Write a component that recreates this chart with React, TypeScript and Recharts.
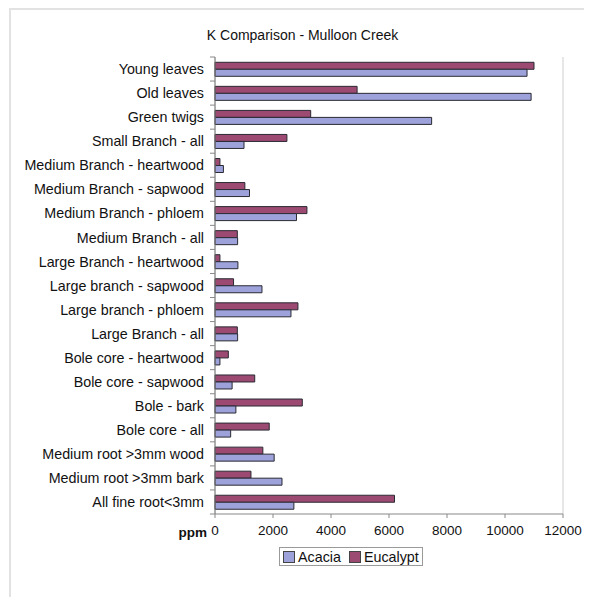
import React from 'react';
import { BarChart, Bar, XAxis, YAxis, CartesianGrid } from 'recharts';

const categories = [
  'Young leaves',
  'Old leaves',
  'Green twigs',
  'Small Branch - all',
  'Medium Branch - heartwood',
  'Medium Branch - sapwood',
  'Medium Branch - phloem',
  'Medium Branch - all',
  'Large Branch - heartwood',
  'Large branch - sapwood',
  'Large branch - phloem',
  'Large Branch - all',
  'Bole core - heartwood',
  'Bole core - sapwood',
  'Bole - bark',
  'Bole core - all',
  'Medium root >3mm wood',
  'Medium root >3mm bark',
  'All fine root<3mm',
];

const eucalypt = [11000, 4900, 3300, 2480, 170, 1030, 3170, 770, 170, 640, 2860, 770, 460, 1370, 3010, 1870, 1650, 1240, 6190];
const acacia = [10760, 10900, 7470, 1000, 290, 1190, 2810, 780, 790, 1620, 2620, 780, 170, 590, 720, 540, 2040, 2310, 2720];

const xTicks = [0, 2000, 4000, 6000, 8000, 10000, 12000];

const data = categories.map((name, i) => ({ name, eucalypt: eucalypt[i], acacia: acacia[i] }));

const FONT = '"Liberation Sans", Arial, sans-serif';
const ACACIA_FILL = '#9da2da';
const EUCALYPT_FILL = '#9c4a72';
const BAR_STROKE = '#2a2a33';

const W = 584;
const H = 560;
const TOP = 49;
const BOTTOM = 506;
const BAND = (BOTTOM - TOP) / categories.length;

const CategoryTick = (props: any) => {
  const { x, y, payload, index } = props;
  return (
    <g>
      <text x={x - 11} y={y} dy="0.36em" textAnchor="end" fontSize={14.3} fontFamily={FONT} fill="#111">
        {payload.value}
      </text>
      <line x1={x - 5} x2={x} y1={y - BAND / 2} y2={y - BAND / 2} stroke="#888" />
      {index === categories.length - 1 && (
        <line x1={x - 5} x2={x} y1={y + BAND / 2} y2={y + BAND / 2} stroke="#888" />
      )}
    </g>
  );
};

const Swatch = ({ color }: { color: string }) => (
  <span
    style={{
      display: 'inline-block',
      width: 10,
      height: 10,
      background: color,
      border: '1px solid #444',
      marginRight: 3,
    }}
  />
);

export default function App() {
  return (
    <div style={{ position: 'relative', width: W, height: 589, fontFamily: FONT }}>
      <div
        style={{
          position: 'absolute',
          left: 1,
          top: 0,
          width: W,
          height: 589,
          borderLeft: '2px solid #e2e2e2',
          borderTop: '2px solid #e2e2e2',
        }}
      />
      <div
        style={{
          position: 'absolute',
          left: 0,
          top: 19,
          width: 589,
          textAlign: 'center',
          fontSize: 14,
          lineHeight: '16px',
          color: '#111',
        }}
      >
        K Comparison - Mulloon Creek
      </div>
      <div style={{ position: 'absolute', left: 0, top: 0 }}>
        <BarChart
          width={W}
          height={H}
          data={data}
          layout="vertical"
          margin={{ top: TOP, right: 29, bottom: H - BOTTOM - 30, left: 0 }}
          barCategoryGap="22%"
          barGap={0}
        >
          <CartesianGrid horizontal={false} stroke="#cfcfcf" />
          <XAxis
            xAxisId="bottom"
            type="number"
            domain={[0, 12000]}
            ticks={xTicks}
            height={30}
            tickSize={4}
            tickMargin={7}
            stroke="#888"
            tick={{ fontSize: 13.5, fontFamily: FONT, fill: '#111' }}
            label={{
              value: 'ppm',
              position: 'left',
              offset: 8,
              fontSize: 13.5,
              fontWeight: 'bold',
              fontFamily: FONT,
              fill: '#111',
              dy: 3,
            }}
          />
          <XAxis xAxisId="top" orientation="top" type="number" domain={[0, 12000]} height={0} tick={false} stroke="#a0a0a0" />
          <YAxis
            yAxisId="left"
            type="category"
            dataKey="name"
            width={207}
            tickSize={0}
            tickMargin={0}
            tickLine={false}
            stroke="#777"
            tick={<CategoryTick />}
            interval={0}
          />
          <YAxis yAxisId="right" orientation="right" type="category" dataKey="name" width={0} tick={false} stroke="#a0a0a0" />
          <Bar
            xAxisId="bottom"
            yAxisId="left"
            dataKey="eucalypt"
            name="Eucalypt"
            fill={EUCALYPT_FILL}
            stroke={BAR_STROKE}
            strokeWidth={1}
            isAnimationActive={false}
          />
          <Bar
            xAxisId="bottom"
            yAxisId="left"
            dataKey="acacia"
            name="Acacia"
            fill={ACACIA_FILL}
            stroke={BAR_STROKE}
            strokeWidth={1}
            isAnimationActive={false}
          />
        </BarChart>
      </div>
      <div
        style={{
          position: 'absolute',
          left: 271,
          top: 539,
          width: 144,
          height: 19,
          border: '1px solid #9a9a9a',
          display: 'flex',
          alignItems: 'center',
          fontSize: 14.3,
          color: '#111',
          paddingLeft: 3,
          boxSizing: 'border-box',
        }}
      >
        <Swatch color={ACACIA_FILL} />
        <span style={{ marginRight: 8 }}>Acacia</span>
        <Swatch color={EUCALYPT_FILL} />
        <span>Eucalypt</span>
      </div>
    </div>
  );
}
